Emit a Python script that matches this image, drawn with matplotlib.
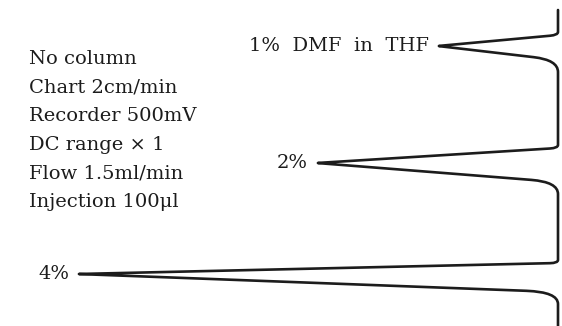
import matplotlib.pyplot as plt
import numpy as np
from matplotlib.path import Path
from matplotlib.patches import PathPatch

# chart trace: vertical time axis (chart mm, downwards), signal deflects to the left
trace_top = 10
trace_bottom = 326

peak_labels = ["1%  DMF  in  THF", "2%", "4%"]
peak_start = [35, 148, 263]
peak_apex = [46, 163, 274]
peak_end = [60, 182, 292]
peak_height = [120, 241, 480]

conditions = [
    "No column",
    "Chart 2cm/min",
    "Recorder 500mV",
    "DC range \u00d7 1",
    "Flow 1.5ml/min",
    "Injection 100\u03bcl",
]

INK = "#1c1c1c"
FONT = "DejaVu Serif"


def rounded_path(points, radii):
    """Polyline through points, each inner corner softened by a quadratic curve."""
    pts = [np.asarray(p, dtype=float) for p in points]
    verts = [pts[0]]
    codes = [Path.MOVETO]
    for i in range(1, len(pts) - 1):
        prev, cur, nxt = pts[i - 1], pts[i], pts[i + 1]
        d_in, d_out = radii[i - 1]
        u_in = (cur - prev) / np.linalg.norm(cur - prev)
        u_out = (nxt - cur) / np.linalg.norm(nxt - cur)
        verts += [cur - u_in * d_in, cur, cur + u_out * d_out]
        codes += [Path.LINETO, Path.CURVE3, Path.CURVE3]
    verts.append(pts[-1])
    codes.append(Path.LINETO)
    return Path(verts, codes)


fig = plt.figure(figsize=(5.62, 3.26), dpi=100)
ax = fig.add_axes([0, 0, 1, 1])
ax.set_xlim(558, -4)
ax.set_ylim(326, 0)
ax.axis("off")

points = [(0, trace_top)]
radii = []
for s, a, e, h in zip(peak_start, peak_apex, peak_end, peak_height):
    points += [(0, s), (h, a), (0, e)]
    radii += [(3, 8), (1.5, 1.5), (22 + h * 0.02, 12)]
points.append((0, trace_bottom))

ax.add_patch(PathPatch(rounded_path(points, radii), fill=False,
                       edgecolor=INK, lw=1.9, capstyle="round", joinstyle="round"))

for label, a, h in zip(peak_labels, peak_apex, peak_height):
    ax.annotate(label, xy=(h, a), xytext=(-9, 0), textcoords="offset pixels",
                ha="right", va="center", fontsize=14, family=FONT, color=INK)

for i, line in enumerate(conditions):
    ax.text(0.052, 1 - (59 + i * 28.6) / 326, line, transform=ax.transAxes,
            ha="left", va="center", fontsize=14, family=FONT, color=INK)

fig.savefig("out.png", dpi=100, facecolor="white")
